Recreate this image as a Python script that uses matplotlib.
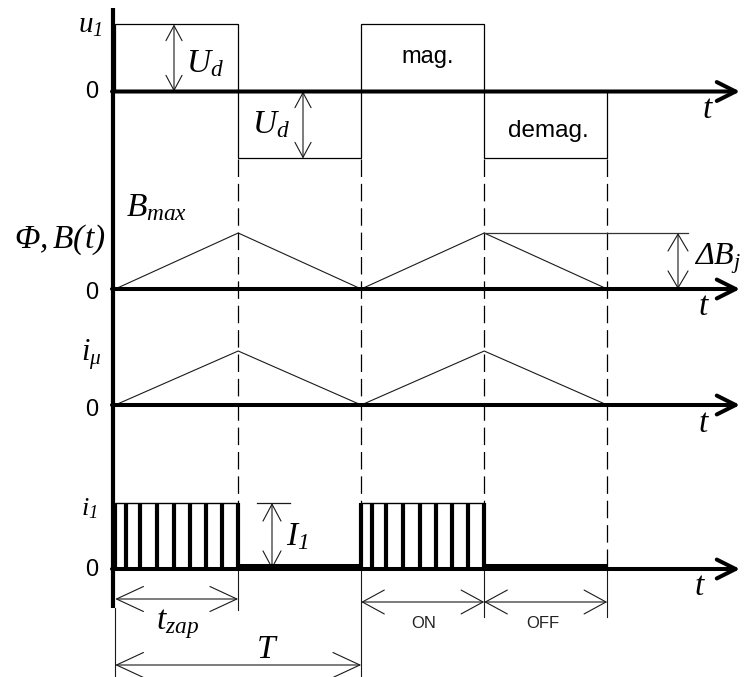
import matplotlib
matplotlib.use("Agg")
import matplotlib.pyplot as plt
from matplotlib.transforms import blended_transform_factory as blend

plt.rcParams.update({
    "mathtext.fontset": "custom",
    "mathtext.rm": "Liberation Serif:italic",
    "mathtext.it": "Liberation Serif:italic",
    "mathtext.bf": "Liberation Serif:italic:bold",
})

# switching instants (units of t_zap)
t_switch = [0, 1, 2, 3, 4]
# primary voltage in each interval (units of U_d)
u1_levels = [1, -1, 1, -1]
# flux density at the switching instants (units of B_max)
B_points = [0, 1, 0, 1, 0]
# magnetising current at the switching instants (normalised)
imu_points = [0, 1, 0, 1, 0]
# primary current in each interval (units of I_1)
i1_levels = [1, 0, 1, 0]
# chopper pulses inside an ON interval (fraction of the interval)
pulse_frac = [0.09, 0.20, 0.34, 0.475, 0.61, 0.735, 0.865]
# residual primary current while OFF (fraction of I_1)
i1_residual = 0.045

W, H = 746, 677
fig = plt.figure(figsize=(W / 100, H / 100), dpi=100)
fig.patch.set_facecolor("white")

PX_T = 123.0   # pixels per time unit
X0 = 115.2     # pixel column of t = 0
tlim = (-X0 / PX_T, (W - X0) / PX_T)


def tp(px):
    """pixel column -> time units"""
    return (px - X0) / PX_T


pix = fig.add_axes([0, 0, 1, 1])
pix.set_xlim(0, W)
pix.set_ylim(H, 0)
pix.axis("off")


def row_axes(zero_px, unit_px):
    ax = fig.add_axes([0, 0, 1, 1])
    ax.set_xlim(*tlim)
    ax.set_ylim((zero_px - H) / unit_px, zero_px / unit_px)
    ax.axis("off")
    ax.patch.set_alpha(0)
    return ax


ax_u = row_axes(91.5, 67)
ax_b = row_axes(289, 56)
ax_m = row_axes(405, 54)
ax_i = row_axes(569, 66)

tx = blend(ax_u.transData, pix.transData)   # x: time, y: pixels
THIN = "#1a1a1a"


def dim_arrow(ax, xy0, xy1, hl_px, hw_px, transform, lw=0.8, color=THIN):
    hl = hl_px / 1.389 / 10
    hw = hw_px / 1.389 / 10
    ax.annotate("", xy=xy1, xytext=xy0, xycoords=transform, textcoords=transform,
                arrowprops=dict(arrowstyle=f"<->,head_length={hl:.2f},head_width={hw:.2f}",
                                lw=lw, color=color, shrinkA=0, shrinkB=0))


# dashed guides at the switching instants
for t in t_switch[1:]:
    pix.plot([t, t], [159, 569], transform=tx, color="k", lw=0.9,
             dashes=(14, 5.5), solid_capstyle="butt")

# extension lines below the current axis
ext_ends = {0: 677, 1: 610, 2: 677, 3: 617, 4: 617}
for t in t_switch:
    y_start = 608 if t == 0 else 569
    pix.plot([t, t], [y_start, ext_ends[t]], transform=tx, color=THIN, lw=0.8)

# vertical axis
pix.plot([113, 113], [8, 608], color="k", lw=3, solid_capstyle="butt")

# time axes with arrow heads
for ax in (ax_u, ax_b, ax_m, ax_i):
    ax.annotate("", xy=(tp(740), 0), xytext=(tp(112), 0),
                arrowprops=dict(arrowstyle="->,head_length=1.35,head_width=0.68",
                                lw=2.9, color="k", shrinkA=0, shrinkB=0))

# u1 waveform
ax_u.stairs(u1_levels, t_switch, baseline=0, color="k", lw=0.9)

# flux and magnetising current
ax_b.plot(t_switch, B_points, color=THIN, lw=0.8)
ax_m.plot(t_switch, imu_points, color=THIN, lw=0.8)

# primary current: chopped during ON, residual during OFF
ax_i.stairs(i1_levels, t_switch, baseline=0, color="k", lw=1.0)
for k, lev in enumerate(i1_levels):
    a, b = t_switch[k], t_switch[k + 1]
    if lev > 0:
        bars = [a, b] + [a + f * (b - a) for f in pulse_frac]
        ax_i.vlines(bars, 0, lev, color="k", lw=3.0)
    else:
        ax_i.hlines(i1_residual, a, b, color="k", lw=2.9)

# U_d amplitude arrows
dim_arrow(pix, (174, 0), (174, u1_levels[0]), 15, 8, blend(pix.transData, ax_u.transData))
dim_arrow(pix, (303, 0), (303, u1_levels[1]), 15, 8, blend(pix.transData, ax_u.transData))

# Delta B arrow and reference line
ax_b.plot([t_switch[3], tp(688)], [B_points[3], B_points[3]], color="#333333", lw=0.9)
dim_arrow(pix, (678, 0), (678, B_points[3]), 17, 10, blend(pix.transData, ax_b.transData))

# I1 arrow and its tick
ax_i.plot([tp(257), tp(290)], [1, 1], color=THIN, lw=0.9)
dim_arrow(pix, (272, 0), (272, i1_levels[0]), 17, 9, blend(pix.transData, ax_i.transData))

# time dimension arrows
dim_arrow(pix, (t_switch[0], 599), (t_switch[1], 599), 27, 12.5, tx)
dim_arrow(pix, (t_switch[0], 665), (t_switch[2], 665), 27, 12.5, tx)
dim_arrow(pix, (t_switch[2], 602), (t_switch[3], 602), 22, 12, tx)
dim_arrow(pix, (t_switch[3], 602), (t_switch[4], 602), 22, 12, tx)

# labels
SANS = "Liberation Sans"
for y0 in (92, 293, 410, 570):
    pix.text(98, y0, "0", fontsize=17, family=SANS, ha="right", va="center")

pix.text(103, 33, r"$u_1$", fontsize=21, ha="right", va="baseline")
pix.text(186, 72, r"$U_d$", fontsize=24, ha="left", va="baseline")
pix.text(252, 133, r"$U_d$", fontsize=24, ha="left", va="baseline")
pix.text(428, 63, "mag.", fontsize=17, family=SANS, ha="center", va="baseline")
pix.text(548, 137, "demag.", fontsize=17.5, family=SANS, ha="center", va="baseline")
pix.text(126, 216, r"$B_{max}$", fontsize=24, ha="left", va="baseline")
pix.text(105, 248, r"$\Phi, B(t)$", fontsize=24, ha="right", va="baseline")
pix.text(694, 265, r"$\Delta B_j$", fontsize=23, ha="left", va="baseline")
pix.text(101, 360, r"$i_\mu$", fontsize=22, ha="right", va="baseline")
pix.text(98, 515, r"$i_1$", fontsize=19, ha="right", va="baseline")
pix.text(286, 545, r"$I_1$", fontsize=24, ha="left", va="baseline")
pix.text(156, 629, r"$t_{zap}$", fontsize=24, ha="left", va="baseline")
pix.text(267, 658, r"$T$", fontsize=24, ha="center", va="baseline")
pix.text(424, 628, "ON", fontsize=12, family=SANS, color="#222222", ha="center", va="baseline")
pix.text(543, 628, "OFF", fontsize=12, family=SANS, color="#222222", ha="center", va="baseline")
for (x, y) in ((708, 118), (704, 315), (704, 432), (700, 595)):
    pix.text(x, y, r"$t$", fontsize=24, ha="center", va="baseline")

fig.savefig("out.png", dpi=100, facecolor="white")
